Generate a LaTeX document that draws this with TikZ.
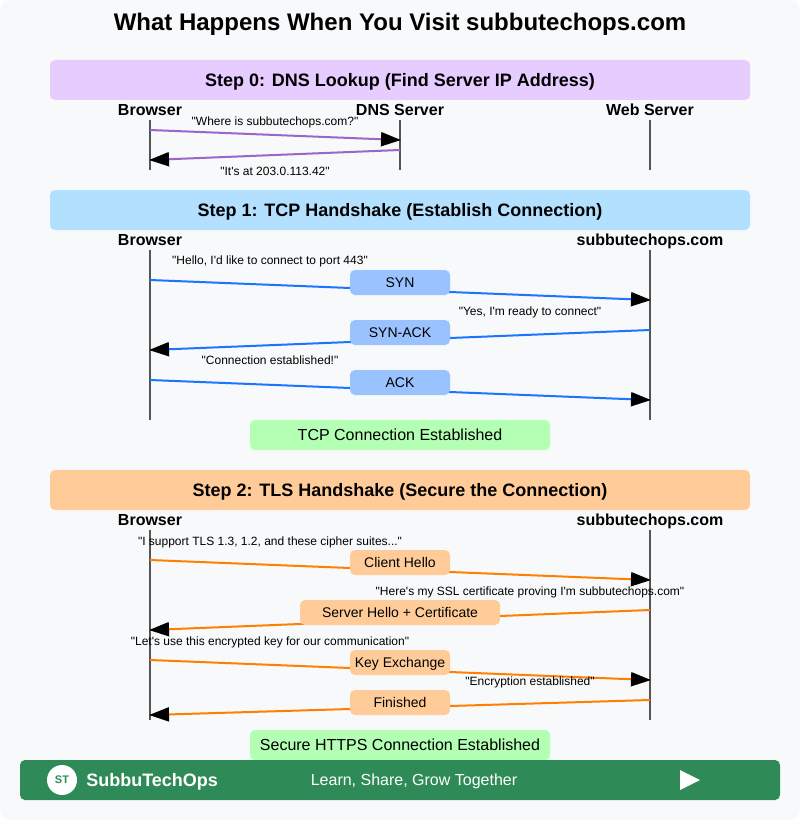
\documentclass[tikz,border=0pt]{standalone}
\usepackage{fontspec}
\setmainfont[Ligatures=TeXOff]{Liberation Sans}
\usetikzlibrary{arrows.meta}
\definecolor{bgc}{HTML}{F8F9FA}
\definecolor{stepA}{HTML}{E6CCFF}
\definecolor{stepB}{HTML}{B3E0FF}
\definecolor{stepC}{HTML}{FFCC99}
\definecolor{okc}{HTML}{B3FFB3}
\definecolor{msgB}{HTML}{99C2FF}
\definecolor{linA}{HTML}{9966CC}
\definecolor{linB}{HTML}{1A75FF}
\definecolor{linC}{HTML}{FF8000}
\definecolor{foot}{HTML}{2E8B57}
\definecolor{life}{HTML}{555555}
\tikzset{
  x=0.75pt,y=-0.75pt,
  capbox/.style={text height=#1*0.72pt,text depth=0pt},
  band/.style={capbox=13.5,draw=none,rounded corners=3.75pt,minimum height=30pt,minimum width=525pt,inner sep=0pt,font=\fontsize{13.5}{16}\selectfont\bfseries},
  okbox/.style={capbox=12,draw=none,fill=okc,rounded corners=3.75pt,minimum height=22.5pt,minimum width=225pt,inner sep=0pt,font=\fontsize{12}{14}\selectfont},
  msg/.style={capbox=10.5,draw=none,rounded corners=3.75pt,minimum height=18.75pt,minimum width=75pt,inner sep=0pt,font=\fontsize{10.5}{12}\selectfont},
  head/.style={capbox=12,inner sep=0pt,font=\fontsize{12}{14}\selectfont\bfseries},
  say/.style={capbox=9,inner sep=0pt,font=\fontsize{9}{11}\selectfont},
  lifeline/.style={draw=life,line width=1.5pt},
  arrowline/.style={line width=1.5pt,shorten >=-0.75pt,-{Triangle[length=15pt,width=10.5pt,black]}}
}
\begin{document}
\begin{tikzpicture}
\useasboundingbox (0,0) rectangle (800,820);
\fill[bgc,rounded corners=7.5pt] (0,0) rectangle (800,820);
\node[capbox=18,inner sep=0pt,font=\fontsize{18}{22}\selectfont\bfseries] (title) at (400,22) {What Happens When You Visit subbutechops.com};
% bands
\node[band,fill=stepA] (s0) at (400,80) {Step 0: DNS Lookup (Find Server IP Address)};
\node[band,fill=stepB] (s1) at (400,210) {Step 1: TCP Handshake (Establish Connection)};
\node[band,fill=stepC] (s2) at (400,490) {Step 2: TLS Handshake (Secure the Connection)};
% headers
\node[head] (h0a) at (150,110) {Browser};
\node[head] (h0b) at (400,110) {DNS Server};
\node[head] (h0c) at (650,110) {Web Server};
\node[head] (h1a) at (150,240) {Browser};
\node[head] (h1b) at (650,240) {subbutechops.com};
\node[head] (h2a) at (150,520) {Browser};
\node[head] (h2b) at (650,520) {subbutechops.com};
% lifeline ends
\coordinate (l0aT) at (150,120); \coordinate (l0aB) at (150,170);
\coordinate (l0bT) at (400,120); \coordinate (l0bB) at (400,170);
\coordinate (l0cT) at (650,120); \coordinate (l0cB) at (650,170);
\coordinate (l1aT) at (150,250); \coordinate (l1aB) at (150,420);
\coordinate (l1bT) at (650,250); \coordinate (l1bB) at (650,420);
\coordinate (l2aT) at (150,530); \coordinate (l2aB) at (150,720);
\coordinate (l2bT) at (650,530); \coordinate (l2bB) at (650,720);
\foreach \n in {l0a,l0b,l0c,l1a,l1b,l2a,l2b} \draw[lifeline] (\n T) -- (\n B);
% arrow ends
\coordinate (a0s) at (150,130); \coordinate (a0e) at (400,140);
\coordinate (a1s) at (400,150); \coordinate (a1e) at (150,160);
\coordinate (b0s) at (150,280); \coordinate (b0e) at (650,300);
\coordinate (b1s) at (650,330); \coordinate (b1e) at (150,350);
\coordinate (b2s) at (150,380); \coordinate (b2e) at (650,400);
\coordinate (c0s) at (150,560); \coordinate (c0e) at (650,580);
\coordinate (c1s) at (650,610); \coordinate (c1e) at (150,630);
\coordinate (c2s) at (150,660); \coordinate (c2e) at (650,680);
\coordinate (c3s) at (650,700); \coordinate (c3e) at (150,715);
\draw[arrowline,linA] (a0s) -- (a0e);
\draw[arrowline,linA] (a1s) -- (a1e);
\draw[arrowline,linB] (b0s) -- (b0e);
\draw[arrowline,linB] (b1s) -- (b1e);
\draw[arrowline,linB] (b2s) -- (b2e);
\draw[arrowline,linC] (c0s) -- (c0e);
\draw[arrowline,linC] (c1s) -- (c1e);
\draw[arrowline,linC] (c2s) -- (c2e);
\draw[arrowline,linC] (c3s) -- (c3e);
% message boxes
\node[msg,fill=msgB] (m1) at (400,282.5) {SYN};
\node[msg,fill=msgB] (m2) at (400,332.5) {SYN-ACK};
\node[msg,fill=msgB] (m3) at (400,382.5) {ACK};
\node[msg,fill=stepC] (m4) at (400,562.5) {Client Hello};
\node[msg,fill=stepC,minimum width=150pt] (m5) at (400,612.5) {Server Hello + Certificate};
\node[msg,fill=stepC] (m6) at (400,662.5) {Key Exchange};
\node[msg,fill=stepC] (m7) at (400,702.5) {Finished};
% spoken labels
\node[say] (t1) at (275,121) {"Where is subbutechops.com?"};
\node[say] (t2) at (275,171) {"It's at 203.0.113.42"};
\node[say] (t3) at (270,260) {"Hello, I'd like to connect to port 443"};
\node[say] (t4) at (530,311) {"Yes, I'm ready to connect"};
\node[say] (t5) at (270,360) {"Connection established!"};
\node[say] (t6) at (270,541) {"I support TLS 1.3, 1.2, and these cipher suites..."};
\node[say] (t7) at (530,591) {"Here's my SSL certificate proving I'm subbutechops.com"};
\node[say] (t8) at (270,641) {"Let's use this encrypted key for our communication"};
\node[say] (t9) at (530,681) {"Encryption established"};
% result boxes
\node[okbox] (ok1) at (400,435) {TCP Connection Established};
\node[okbox] (ok2) at (400,745) {Secure HTTPS Connection Established};
% footer
\node[draw=none,fill=foot,rounded corners=3.75pt,minimum width=570pt,minimum height=30pt,inner sep=0pt] (footbar) at (400,780) {};
\node[circle,fill=white,minimum size=22.5pt,inner sep=0pt,font=\fontsize{8.25}{10}\selectfont\bfseries,text=foot] (logo) at (62,780) {ST};
\node[capbox=13.5,anchor=west,inner sep=0pt,text=white,font=\fontsize{13.5}{16}\selectfont\bfseries] (brand) at (86,780) {SubbuTechOps};
\node[capbox=12,inner sep=0pt,text=white,font=\fontsize{12}{14}\selectfont] (motto) at (414,780) {Learn, Share, Grow Together};
\fill[white] (680,770) -- (700,780) -- (680,790) -- cycle;
\end{tikzpicture}
\end{document}
